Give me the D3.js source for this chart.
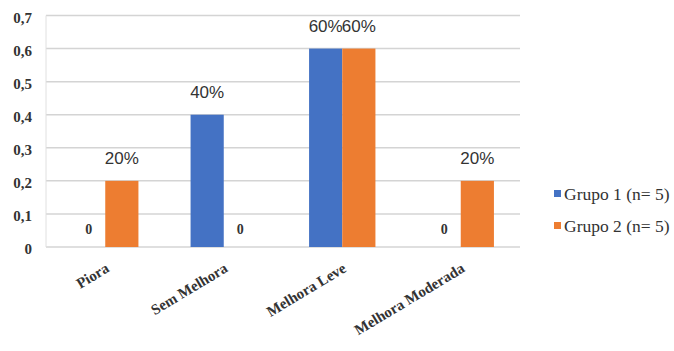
<!DOCTYPE html>
<html><head><meta charset="utf-8">
<script src="https://cdn.jsdelivr.net/npm/d3@7"></script>
<style>body{margin:0;background:#fff}svg{display:block}</style>
</head><body>
<script>
const categories = ["Piora", "Sem Melhora", "Melhora Leve", "Melhora Moderada"];
const seriesNames = ["Grupo 1 (n= 5)", "Grupo 2 (n= 5)"];
const grupo1 = [0, 0.4, 0.6, 0];
const grupo2 = [0.2, 0, 0.6, 0.2];
const yTicks = [0, 0.1, 0.2, 0.3, 0.4, 0.5, 0.6, 0.7];
const colors = ["#4472C4", "#ED7D31"];

const W = 674, H = 351;
const svg = d3.select("body").append("svg").attr("width", W).attr("height", H);
const mLeft = 46, mRight = 520, mTop = 15.5, mBottom = 247;

const x = d3.scaleBand().domain(categories).range([mLeft, mRight]).paddingInner(0.44).paddingOuter(0.22);
const xs = d3.scaleBand().domain([0, 1]).range([0, x.bandwidth()]);
const y = d3.scaleLinear().domain([0, 0.7]).range([mBottom, mTop]);

// grid
svg.append("g").selectAll("line").data(yTicks).join("line")
  .attr("x1", mLeft).attr("x2", mRight)
  .attr("y1", d => y(d)).attr("y2", d => y(d))
  .attr("stroke", "#d4d4d4").attr("stroke-width", 1.5);
svg.append("line").attr("x1", mLeft).attr("x2", mLeft)
  .attr("y1", y(0.7)).attr("y2", y(0))
  .attr("stroke", "#e0e0e0").attr("stroke-width", 1);

// y axis labels
const fmt = d => d === 0 ? "0" : d3.format(".1f")(d).replace(".", ",");
const yAxis = d3.axisLeft(y).tickValues(yTicks).tickFormat(fmt).tickSize(0).tickPadding(14);
const ga = svg.append("g").attr("transform", `translate(${mLeft},0)`).call(yAxis);
ga.select(".domain").remove();
ga.selectAll("text").attr("font-family", "Liberation Serif").attr("font-weight", "bold")
  .attr("font-size", 15).attr("fill", "#333").attr("dy", "0.45em");

const series = [grupo1, grupo2];
series.forEach((vals, si) => {
  const g = svg.append("g");
  g.selectAll("rect").data(vals).join("rect")
    .attr("x", (d, i) => x(categories[i]) + xs(si))
    .attr("width", xs.bandwidth())
    .attr("y", d => y(d))
    .attr("height", d => y(0) - y(d))
    .attr("fill", colors[si]);
  g.selectAll("text").data(vals).join("text")
    .attr("x", (d, i) => x(categories[i]) + xs(si) + xs.bandwidth() / 2)
    .attr("y", d => d === 0 ? y(0) - 13 : y(d) - 17)
    .attr("text-anchor", "middle")
    .attr("font-family", d => d === 0 ? "Liberation Serif" : "Liberation Sans")
    .attr("font-weight", d => d === 0 ? "bold" : "normal")
    .attr("font-size", d => d === 0 ? 14 : 17)
    .attr("fill", "#333")
    .text(d => d === 0 ? "0" : Math.round(d * 100) + "%");
});

// x labels
svg.append("g").selectAll("text").data(categories).join("text")
  .attr("transform", d => `translate(${x(d) + x.bandwidth() / 2 + 5},${y(0) + 24}) rotate(-31)`)
  .attr("text-anchor", "end")
  .attr("font-family", "Liberation Serif").attr("font-weight", "bold")
  .attr("font-size", 15).attr("fill", "#333")
  .text(d => d);

// legend
const lg = svg.append("g");
seriesNames.forEach((n, i) => {
  const yy = 190 + i * 32;
  lg.append("rect").attr("x", 554).attr("y", yy).attr("width", 7).attr("height", 7).attr("fill", colors[i]);
  lg.append("text").attr("x", 564).attr("y", yy + 10)
    .attr("font-family", "Liberation Serif").attr("font-size", 17.5).attr("fill", "#333").text(n);
});
</script>
</body></html>
